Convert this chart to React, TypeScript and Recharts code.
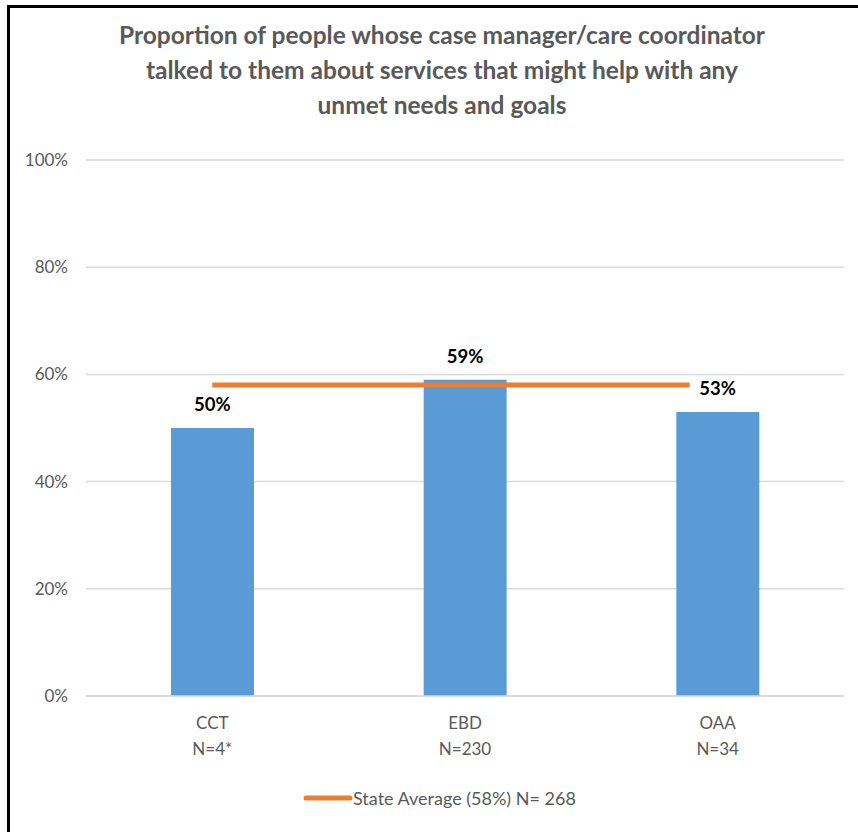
import React from 'react'
import { ComposedChart, Bar, Line, XAxis, YAxis, CartesianGrid, LabelList } from 'recharts'

const categories = ['CCT', 'EBD', 'OAA']
const sampleSizes = ['N=4*', 'N=230', 'N=34']
const proportions = [50, 59, 53]
const stateAverage = [58, 58, 58]
const yTicks = [0, 20, 40, 60, 80, 100]

const data = categories.map((name, i) => ({
  name,
  n: sampleSizes[i],
  value: proportions[i],
  avg: stateAverage[i],
}))

const FONT = 'Lato, "Open Sans", sans-serif'
const GRAY = '#595959'

function CategoryTick(props: any) {
  const { x, y, payload, index } = props
  return (
    <g transform={`translate(${x},${y})`}>
      <text x={0} y={0} textAnchor="middle" fill={GRAY} fontSize={17} fontFamily={FONT}>
        <tspan x={0} dy={25}>{payload.value}</tspan>
        <tspan x={0} dy={26}>{sampleSizes[index]}</tspan>
      </text>
    </g>
  )
}

function ValueLabel(props: any) {
  const { x, y, value } = props
  const base = y - 17
  return (
    <g>
      <rect x={x - 28} y={base - 18} width={56} height={23} fill="#fff" />
      <text x={x} y={base} textAnchor="middle" fontSize={18.5} fontWeight={700} fill="#000" fontFamily={FONT}>
        {value}%
      </text>
    </g>
  )
}

export default function App() {
  return (
    <div style={{ position: 'absolute', left: 0, top: 0, width: 858, height: 832, background: '#fff', overflow: 'hidden' }}>
      <div
        style={{
          position: 'absolute',
          left: 7,
          top: 5,
          width: 860,
          height: 840,
          borderTop: '3px solid #000',
          borderLeft: '3px solid #000',
          boxSizing: 'border-box',
        }}
      />
      <div
        style={{
          position: 'absolute',
          left: 10,
          top: 17,
          width: 864,
          textAlign: 'center',
          fontFamily: FONT,
          fontWeight: 700,
          fontSize: 24.5,
          lineHeight: '35px',
          color: GRAY,
        }}
      >
        Proportion of people whose case manager/care coordinator
        <br />
        talked to them about services that might help with any
        <br />
        unmet needs and goals
      </div>
      <div style={{ position: 'absolute', left: 0, top: 0 }}>
        <ComposedChart width={858} height={832} data={data} margin={{ top: 160, right: 14, bottom: 76, left: 0 }}>
          <CartesianGrid vertical={false} stroke="#d9d9d9" strokeWidth={1.5} />
          <XAxis
            dataKey="name"
            axisLine={{ stroke: '#d9d9d9', strokeWidth: 1.5 }}
            tickLine={false}
            tick={<CategoryTick />}
            interval={0}
            height={60}
          />
          <YAxis
            domain={[0, 100]}
            ticks={yTicks}
            tickFormatter={(v: number) => `${v}%`}
            axisLine={false}
            tickLine={false}
            tickSize={0}
            tickMargin={18}
            width={86}
            tick={{ fill: GRAY, fontSize: 17, fontFamily: FONT }}
          />
          <Bar dataKey="value" fill="#5B9BD5" barSize={83} isAnimationActive={false} />
          <Line
            dataKey="avg"
            name="State Average (58%) N= 268"
            stroke="#ED7D31"
            strokeWidth={5}
            dot={false}
            activeDot={false}
            isAnimationActive={false}
          />
          <Line dataKey="value" stroke="none" dot={false} activeDot={false} isAnimationActive={false}>
            <LabelList dataKey="value" content={<ValueLabel />} />
          </Line>
        </ComposedChart>
      </div>
      <div
        style={{
          position: 'absolute',
          left: 302,
          top: 787,
          display: 'flex',
          alignItems: 'center',
          fontFamily: FONT,
          fontSize: 18,
          color: GRAY,
          whiteSpace: 'nowrap',
        }}
      >
        <svg width={51} height={10}>
          <line x1={4} y1={5} x2={48} y2={5} stroke="#ED7D31" strokeWidth={5} strokeLinecap="round" />
        </svg>
        <span>State Average (58%) N= 268</span>
      </div>
    </div>
  )
}
